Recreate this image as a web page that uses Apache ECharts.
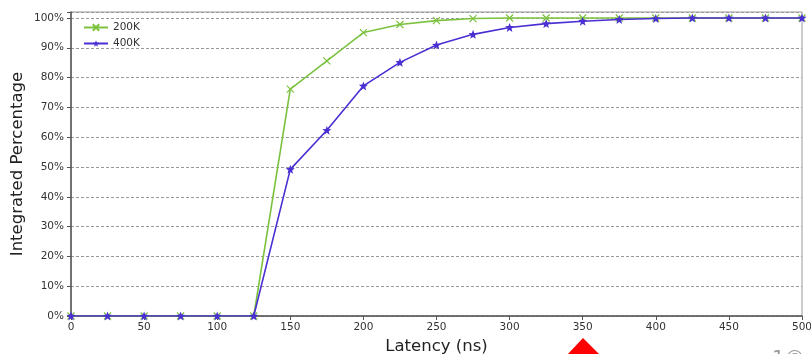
<!DOCTYPE html>
<html>
<head>
<meta charset="utf-8">
<script src="https://cdn.jsdelivr.net/npm/echarts@6/dist/echarts.min.js"></script>
<style>html,body{margin:0;padding:0;background:#fff}#c{width:811px;height:354px}</style>
</head>
<body>
<div id="c"></div>
<script>
var latency = [0,25,50,75,100,125,150,175,200,225,250,275,300,325,350,375,400,425,450,475,500];
var s200K = [0,0,0,0,0,0,76.1,85.6,95.1,97.8,99.1,99.8,100,100,100,100,100,100,100,100,100];
var s400K = [0,0,0,0,0,0,49.2,62.3,77.2,85.1,90.9,94.5,96.8,98.1,98.9,99.5,99.8,100,100,100,100];
var seriesNames = ['200K','400K'];
var xTicks = [0,50,100,150,200,250,300,350,400,450,500];

function pairs(xs, ys){ return xs.map(function(x,i){ return [x, ys[i]]; }); }

var FONT = 'DejaVu Sans';
var GREEN = '#7cc23f';
var PURPLE = '#4a2fd2';
var crossSym = 'path://M0,0L10,10M10,0L0,10';
var starSym = 'path://M5,0L6.3,3.3L10,3.6L7.1,5.9L8.1,9.6L5,7.5L1.9,9.6L2.9,5.9L0,3.6L3.7,3.3Z';

var chart = echarts.init(document.getElementById('c'), null, {renderer:'canvas'});
chart.setOption({
  animation:false,
  backgroundColor:'#fff',
  grid:{left:71, right:9, top:12, bottom:38, outerBoundsMode:'none', containLabel:false,
    show:true, borderColor:'#9a9a9a', borderWidth:1, backgroundColor:'transparent'},
  legend:{
    orient:'vertical', left:78, top:17, itemWidth:24, itemHeight:8, itemGap:5,
    textStyle:{fontFamily:FONT, fontSize:10.5, color:'#333'},
    data:seriesNames
  },
  xAxis:{
    type:'value', min:0, max:500, interval:50,
    name:'Latency (ns)', nameLocation:'middle', nameGap:22, nameMoveOverlap:false,
    nameTextStyle:{fontFamily:FONT, fontSize:16.5, color:'#222'},
    axisLine:{show:true, lineStyle:{color:'#555', width:1.5}},
    axisTick:{show:true, length:4, lineStyle:{color:'#555'}},
    axisLabel:{fontFamily:FONT, fontSize:10.5, color:'#333', margin:6,
      formatter:function(v){ return xTicks.indexOf(v) >= 0 ? String(v) : ''; }},
    splitLine:{show:false}
  },
  yAxis:{
    type:'value', min:0, max:102, interval:10,
    name:'Integrated Percentage', nameLocation:'middle', nameGap:45, nameRotate:90, nameMoveOverlap:false,
    nameTextStyle:{fontFamily:FONT, fontSize:16.5, color:'#222'},
    axisLine:{show:true, lineStyle:{color:'#555', width:1.5}},
    axisTick:{show:true, length:4, lineStyle:{color:'#555'}},
    axisLabel:{fontFamily:FONT, fontSize:10.5, color:'#333', margin:7,
      formatter:function(v){ return v % 10 === 0 ? v + '%' : ''; }},
    splitLine:{show:true, lineStyle:{color:'#9a9a9a', type:[3,2], width:1}}
  },
  series:[
    {name:seriesNames[0], type:'line', data:pairs(latency, s200K), symbol:crossSym, symbolSize:7,
      lineStyle:{color:GREEN, width:1.6}, itemStyle:{color:GREEN, borderColor:GREEN, borderWidth:1.2}, z:2},
    {name:seriesNames[1], type:'line', data:pairs(latency, s400K), symbol:starSym, symbolSize:9,
      lineStyle:{color:PURPLE, width:1.6}, itemStyle:{color:PURPLE}, z:3}
  ],
  graphic:[
    {type:'polygon', shape:{points:[[583,338],[567,355],[600,355]]}, style:{fill:'#ff0000'}},
    {type:'text', left:772, top:349, style:{text:'1©', font:'20px "DejaVu Sans"', fill:'#9a9a9a'}}
  ]
});
</script>
</body>
</html>
